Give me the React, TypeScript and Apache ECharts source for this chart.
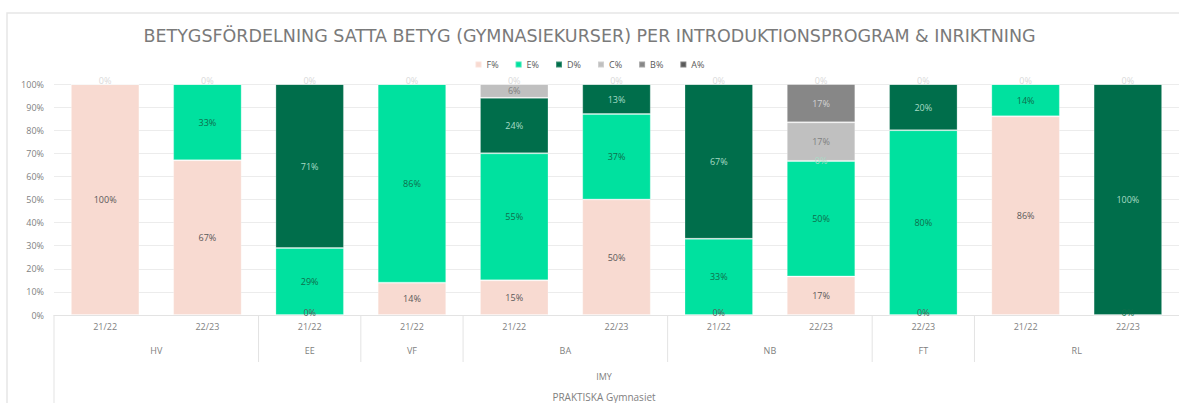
import React, { useEffect, useRef } from "react";
import * as echarts from "echarts";

const titleText =
  "BETYGSFÖRDELNING SATTA BETYG (GYMNASIEKURSER) PER INTRODUKTIONSPROGRAM & INRIKTNING";
const categories = ["21/22", "22/23", "21/22", "21/22", "21/22", "22/23", "21/22", "22/23", "22/23", "21/22", "22/23"];
const groupNames = ["HV", "EE", "VF", "BA", "NB", "FT", "RL"];
const groupSpans = [2, 1, 1, 2, 2, 1, 2];
const level3Label = "IMY";
const level4Label = "PRAKTISKA Gymnasiet";
const yTicks = [0, 10, 20, 30, 40, 50, 60, 70, 80, 90, 100];

const seriesNames = ["F%", "E%", "D%", "C%", "B%", "A%"];
const F = [100, 67, 0, 14, 15, 50, 0, 16.7, 0, 86, 0];
const E = [0, 33, 29, 86, 55, 37, 33, 50, 80, 14, 0];
const D = [0, 0, 71, 0, 24, 13, 67, 0, 20, 0, 100];
const C = [0, 0, 0, 0, 6, 0, 0, 16.7, 0, 0, 0];
const B = [0, 0, 0, 0, 0, 0, 0, 16.6, 0, 0, 0];
const A = [0, 0, 0, 0, 0, 0, 0, 0, 0, 0, 0];
const seriesValues = [F, E, D, C, B, A];

const barColors = ["#f8dad1", "#00e19f", "#006e4b", "#c0c0c0", "#878787", "#5a5a5a"];
const labelColors = ["#595959", "#0f6e4c", "#a8dcc6", "#7f7f7f", "#d4d4d4", "#d9d9d9"];

export default function App() {
  const ref = useRef<HTMLDivElement>(null);

  useEffect(() => {
    if (!ref.current) return;
    const chart = echarts.init(ref.current, null, { renderer: "svg" });

    // decide which zero labels to show: the last zero at each stack position
    const showZero: Record<string, number> = {};
    categories.forEach((_, i) => {
      let cum = 0;
      seriesValues.forEach((vals, s) => {
        const v = vals[i];
        if (v === 0) showZero[i + "_" + Math.round(cum * 10)] = s;
        cum += v;
      });
    });

    const series = seriesValues.map((vals, s) => {
      const data = vals.map((v, i) => {
        let cum = 0;
        for (let k = 0; k < s; k++) cum += seriesValues[k][i];
        const show = v > 0 || showZero[i + "_" + Math.round(cum * 10)] === s;
        const atTop = v === 0 && cum >= 99.9;
        const atBottom = v === 0 && cum <= 0.01;
        const offset = atTop ? [0, -4] : atBottom ? [0, -3] : [0, 0];
        return { value: v, label: { show, offset } };
      });
      return {
        name: seriesNames[s],
        type: "bar",
        stack: "total",
        barWidth: "67%",
        data,
        itemStyle: {
          color: barColors[s],
          borderColor: "rgba(255,255,255,0.25)",
          borderWidth: 1,
        },
        label: {
          show: true,
          position: "inside",
          fontSize: 9,
          color: labelColors[s],
          fontFamily: "Open Sans",
          formatter: (p: any) => Math.round(p.value) + "%",
        },
      };
    });

    chart.setOption({
      animation: false,
      title: {
        text: titleText,
        left: "center",
        top: 22,
        textStyle: { fontSize: 17.5, fontWeight: "normal", color: "#7a7a7a", fontFamily: "DejaVu Sans" },
      },
      legend: {
        data: seriesNames,
        top: 55,
        left: "center",
        icon: "rect",
        itemWidth: 6,
        itemHeight: 6,
        itemGap: 16,
        textStyle: { fontSize: 9, color: "#595959", fontFamily: "Open Sans" },
      },
      grid: { left: 54, top: 84, width: 1127, height: 231 },
      xAxis: {
        type: "category",
        data: categories,
        axisLine: { lineStyle: { color: "#e3e3e3" } },
        axisTick: { show: false },
        axisLabel: { fontSize: 9, color: "#7f7f7f", margin: 7, fontFamily: "Open Sans" },
      },
      yAxis: {
        type: "value",
        min: yTicks[0],
        max: yTicks[yTicks.length - 1],
        interval: 10,
        axisLabel: { fontSize: 9, color: "#7f7f7f", formatter: "{value}%", margin: 10, fontFamily: "Open Sans" },
        splitLine: { lineStyle: { color: "#ececec" } },
        axisLine: { show: false },
      },
      series,
    });

    // multi-level axis decorations computed from the axis scale
    const p0 = chart.convertToPixel({ xAxisIndex: 0 }, 0) as number;
    const p1 = chart.convertToPixel({ xAxisIndex: 0 }, 1) as number;
    const band = p1 - p0;
    const axisY = chart.convertToPixel({ yAxisIndex: 0 }, 0) as number;
    const graphics: any[] = [
      {
        type: "rect",
        shape: { x: 7, y: 13, width: 1200, height: 420 },
        style: { fill: "none", stroke: "#e6e6e6", lineWidth: 1.5 },
        silent: true,
      },
    ];
    let idx = 0;
    groupNames.forEach((g, gi) => {
      const span = groupSpans[gi];
      const first = chart.convertToPixel({ xAxisIndex: 0 }, idx) as number;
      const last = chart.convertToPixel({ xAxisIndex: 0 }, idx + span - 1) as number;
      const leftEdge = first - band / 2;
      graphics.push({
        type: "line",
        shape: { x1: leftEdge, y1: axisY, x2: leftEdge, y2: gi === 0 ? 410 : axisY + 47 },
        style: { stroke: "#e3e3e3", lineWidth: 1 },
        silent: true,
      });
      graphics.push({
        type: "text",
        x: (first + last) / 2,
        y: axisY + 35,
        style: {
          text: g,
          fontSize: 9,
          fill: "#7f7f7f",
          align: "center",
          verticalAlign: "middle",
          fontFamily: "Open Sans",
        },
        silent: true,
      });
      idx += span;
    });
    graphics.push({
      type: "text",
      x: 604,
      y: 376,
      style: { text: level3Label, fontSize: 9, fill: "#7f7f7f", align: "center", verticalAlign: "middle", fontFamily: "Open Sans" },
      silent: true,
    });
    graphics.push({
      type: "text",
      x: 604,
      y: 397,
      style: { text: level4Label, fontSize: 10, fill: "#7f7f7f", align: "center", verticalAlign: "middle", fontFamily: "Open Sans" },
      silent: true,
    });
    chart.setOption({ graphic: graphics });

    return () => chart.dispose();
  }, []);

  return (
    <div
      ref={ref}
      style={{ position: "fixed", left: 0, top: 0, width: 1179, height: 403, background: "#fff" }}
    />
  );
}
